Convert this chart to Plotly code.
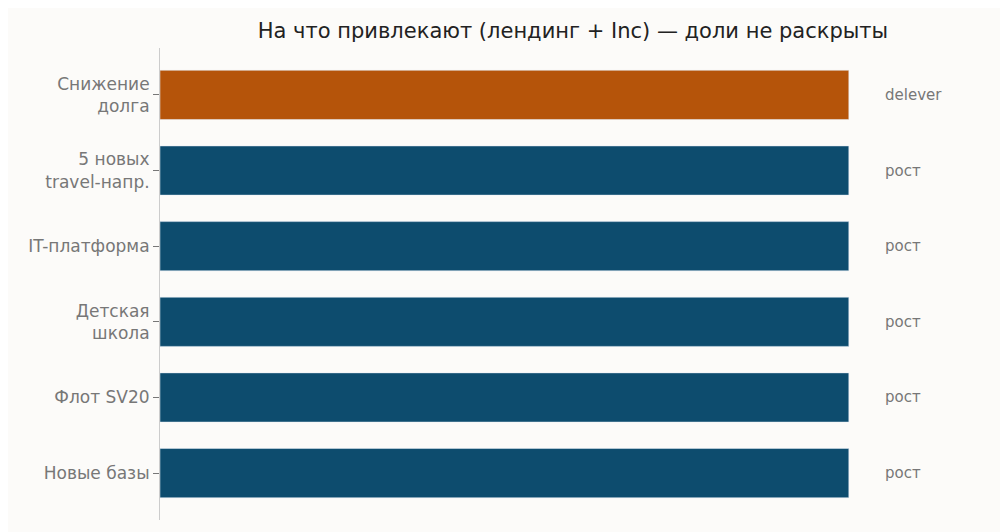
import plotly.graph_objects as go

categories = ["Снижение<br>долга", "5 новых<br>travel-напр.", "IT-платформа",
              "Детская<br>школа", "Флот SV20", "Новые базы"]
values = [1, 1, 1, 1, 1, 1]
labels = ["delever", "рост", "рост", "рост", "рост", "рост"]
colors = ["#B5540A", "#0D4C6E", "#0D4C6E", "#0D4C6E", "#0D4C6E", "#0D4C6E"]

fig = go.Figure()
fig.add_trace(go.Bar(
    x=values, y=categories, orientation="h",
    marker=dict(color=colors), width=0.65,
    hoverinfo="skip", showlegend=False
))

for c, lab in zip(categories, labels):
    fig.add_annotation(x=1.05, y=c, text=lab, showarrow=False, xanchor="left",
                       font=dict(size=15, color="#777777"))

fig.update_layout(
    width=1008, height=532,
    paper_bgcolor="#FCFBF9", plot_bgcolor="#FCFBF9",
    font=dict(family="DejaVu Sans, sans-serif", color="#777777"),
    title=dict(text="На что привлекают (лендинг + Inc) — доли не раскрыты",
               x=0.5605, xanchor="center", y=0.957, yanchor="middle",
               font=dict(size=21, color="#222222")),
    margin=dict(l=152, r=26, t=40, b=20),
    xaxis=dict(range=[0, 1.205], visible=False),
    yaxis=dict(autorange=False, range=[5.62, -0.62], showline=True, linecolor="#CCCCCC",
               ticks="outside", ticklen=6, tickcolor="#777777",
               tickfont=dict(size=17, color="#777777"), showgrid=False),
)

fig.write_html("out.html")
